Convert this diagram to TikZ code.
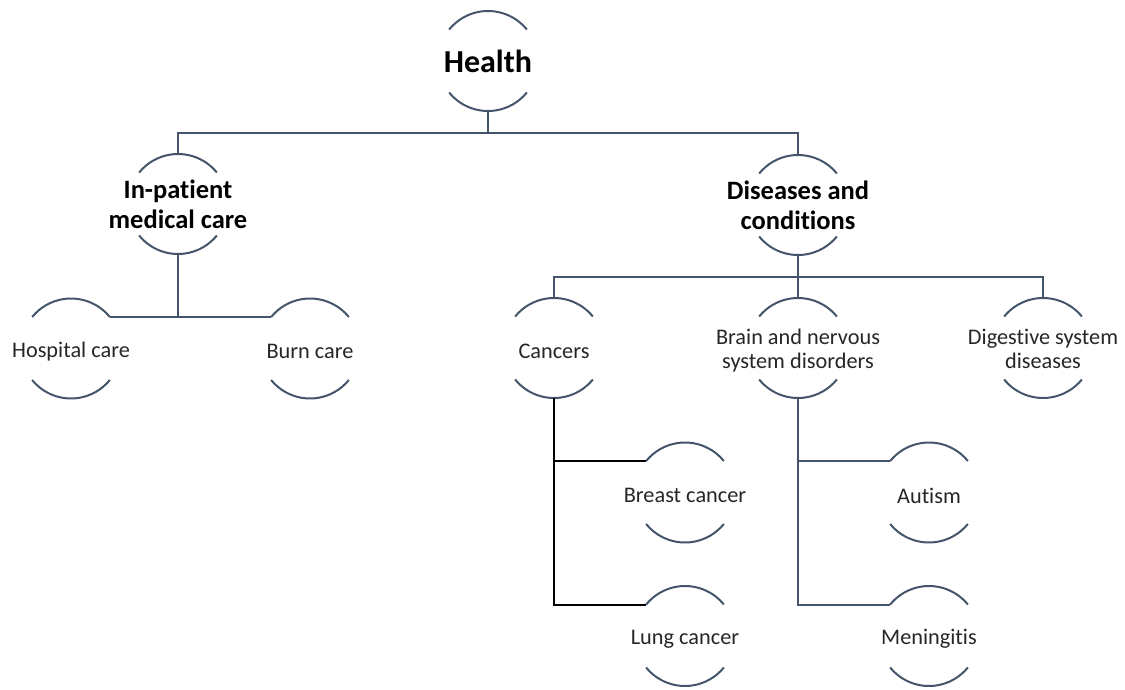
\documentclass[tikz,border=0pt]{standalone}
\usepackage{fontspec}
\setmainfont{Carlito}[Ligatures={NoCommon,NoContextual}]
\definecolor{slate}{HTML}{44546A}
\definecolor{ink}{HTML}{262626}
\newcommand\oneline[1]{\makebox[0pt]{\raisebox{-3pt}[\height][\depth]{#1}}}
\newcommand\twoline[2]{\makebox[0pt]{\raisebox{-3.5pt}[\height][\depth]{\begin{tabular}{@{}c@{}}#1\\#2\end{tabular}}}}
\begin{document}
\begin{tikzpicture}[x=1pt,y=1pt,
  bub/.style={circle, minimum size=100pt, inner sep=0pt, outer sep=0pt,
    font=\fontsize{22.3}{24}\selectfont, text=ink},
  head/.style={bub, font=\bfseries\fontsize{26.5}{30}\selectfont, text=black},
  toptitle/.style={bub, font=\bfseries\fontsize{32}{36}\selectfont, text=black},
  arcline/.style={draw=slate, line width=2pt},
  link/.style={draw=slate, line width=2pt},
  dlink/.style={draw=black, line width=2pt}]
\useasboundingbox (0,0) rectangle (1125,-689);

\node[toptitle] (health)  at (488,-61)    {\makebox[0pt]{Health}};
\node[head]     (inpat)   at (178,-204)   {\twoline{In-patient}{medical care}};
\node[head]     (dis)     at (798,-205)   {\twoline{Diseases and}{conditions}};
\node[bub]      (hosp)    at (71,-348.5)  {\oneline{Hospital care}};
\node[bub]      (burn)    at (310,-348.5) {\oneline{Burn care}};
\node[bub]      (cancers) at (554,-348)   {\oneline{Cancers}};
\node[bub]      (brain)   at (798,-348)   {\twoline{Brain and nervous}{system disorders}};
\node[bub]      (dig)     at (1043,-348)  {\twoline{Digestive system}{diseases}};
\node[bub]      (breast)  at (685,-492.5) {\oneline{Breast cancer}};
\node[bub]      (lung)    at (685,-636)   {\oneline{Lung cancer}};
\node[bub]      (autism)  at (929,-492.5) {\oneline{Autism}};
\node[bub]      (mening)  at (929,-636)   {\oneline{Meningitis}};

\foreach \n in {health,inpat,dis,hosp,burn,cancers,brain,dig,breast,lung,autism,mening}{
  \draw[arcline] (\n.39) arc[start angle=39, end angle=141, radius=50pt];
  \draw[arcline] (\n.219) arc[start angle=219, end angle=321, radius=50pt];
}

\coordinate (bus1) at (488,-132.5);
\coordinate (bus2) at (798,-277);
\draw[link] (health.south) -- (bus1);
\draw[link] (inpat.north) |- (bus1) -| (dis.north);
\draw[link] (inpat.south) -- (inpat.south |- hosp.39);
\draw[link] (hosp.39) -- (burn.141);
\draw[link] (dis.south) -- (bus2);
\draw[link] (cancers.north) |- (bus2) -| (dig.north);
\draw[link] (brain.north) -- (bus2);
\draw[dlink] (cancers.south) |- (breast.141);
\draw[dlink] (cancers.south) |- (lung.141);
\draw[link] (brain.south) |- (autism.141);
\draw[link] (brain.south) |- (mening.141);
\end{tikzpicture}
\end{document}
